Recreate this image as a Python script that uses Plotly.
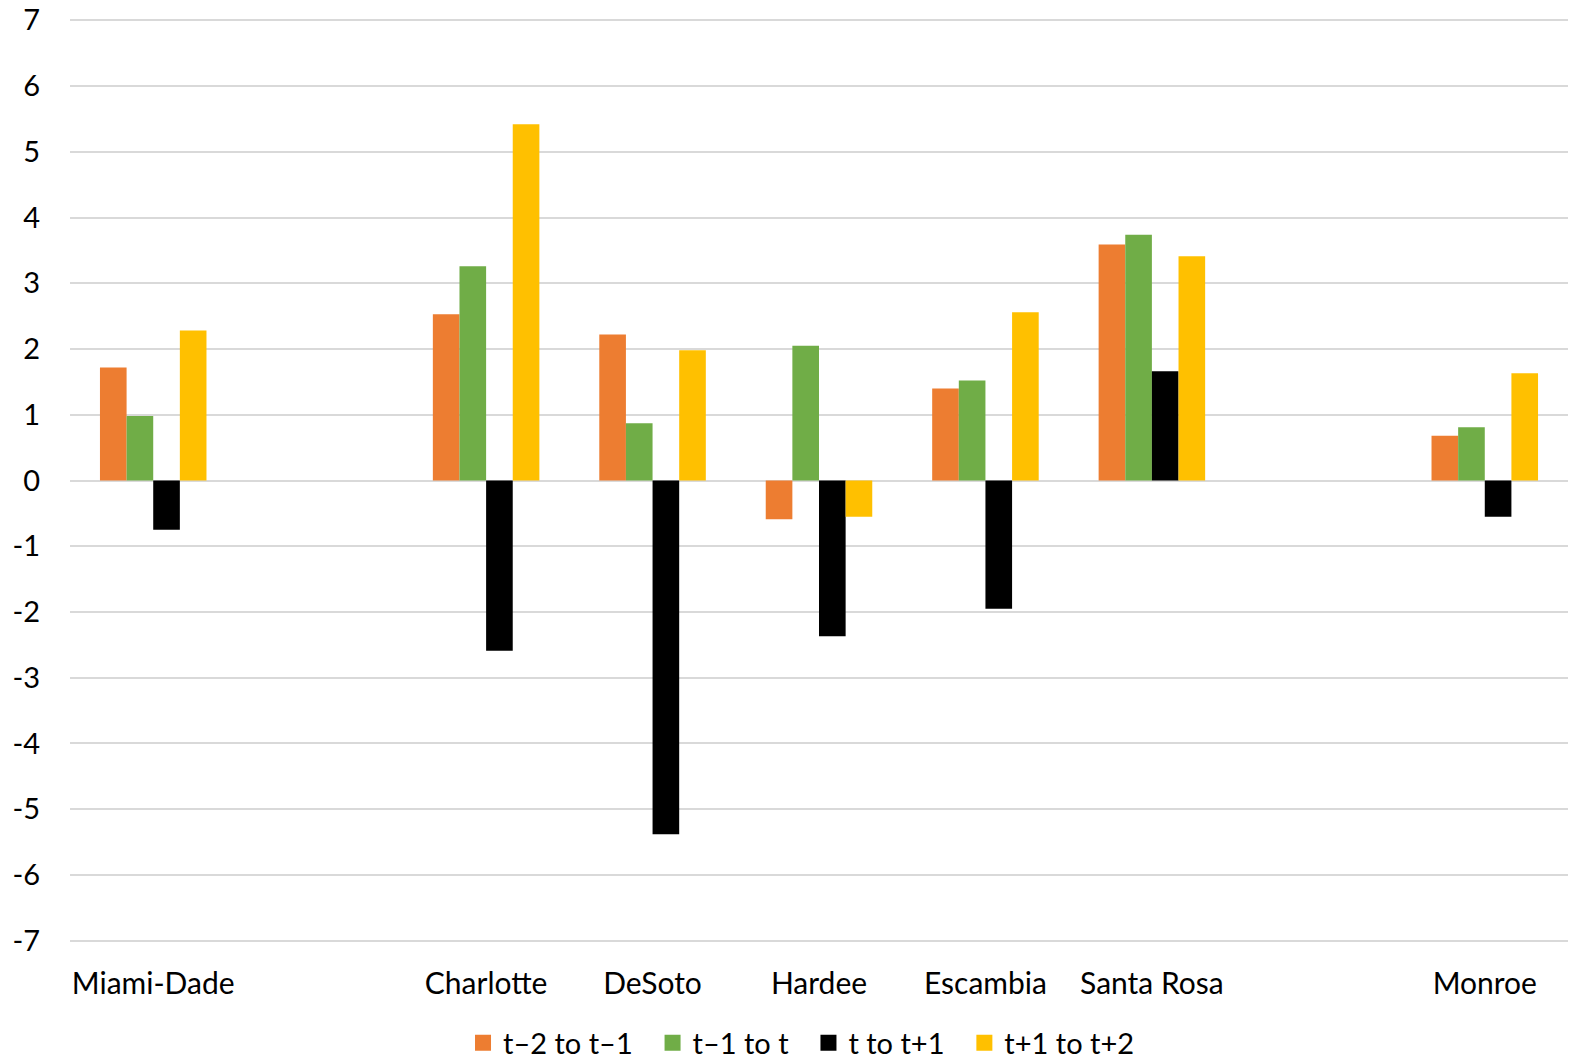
import plotly.graph_objects as go

counties = ["Miami-Dade", " ", "Charlotte", "DeSoto", "Hardee", "Escambia", "Santa Rosa", "  ", "Monroe"]

t_minus2_to_minus1 = [1.72, None, 2.53, 2.22, -0.59, 1.40, 3.59, None, 0.68]
t_minus1_to_t = [0.98, None, 3.26, 0.87, 2.05, 1.52, 3.74, None, 0.81]
t_to_plus1 = [-0.75, None, -2.59, -5.38, -2.37, -1.95, 1.66, None, -0.55]
t_plus1_to_plus2 = [2.28, None, 5.42, 1.98, -0.55, 2.56, 3.41, None, 1.63]

y_ticks = list(range(-7, 8))
y_tick_text = [str(v) for v in y_ticks]

series = [
    ("t\u20132 to t\u20131", t_minus2_to_minus1, "#ED7D31"),
    ("t\u20131 to t", t_minus1_to_t, "#70AD47"),
    ("t to t+1", t_to_plus1, "#000000"),
    ("t+1 to t+2", t_plus1_to_plus2, "#FFC000"),
]

fig = go.Figure()
for name, vals, color in series:
    fig.add_trace(go.Bar(x=counties, y=vals, name=name, marker_color=color,
                         marker_line_width=0, showlegend=False))
# bigger square legend keys, like the spreadsheet legend
for name, vals, color in series:
    fig.add_trace(go.Scatter(x=[None], y=[None], mode="markers",
                             name=name + "\u00a0\u00a0",
                             marker=dict(symbol="square", size=18, color=color)))

fig.update_layout(
    template="simple_white",
    width=1573, height=1061,
    margin=dict(l=70, r=5, t=19, b=119),
    barmode="group", bargap=0.36, bargroupgap=0,
    font=dict(family="Lato, Open Sans, sans-serif", size=29, color="#000000"),
    plot_bgcolor="white",
    paper_bgcolor="white",
    legend=dict(orientation="h", x=0.493, xanchor="center",
                yref="container", y=0.017, yanchor="middle",
                font=dict(size=29), itemwidth=30, traceorder="normal"),
    xaxis=dict(showline=False, ticks="", showgrid=False, automargin=False,
               ticklabelstandoff=21, tickfont=dict(size=30)),
    yaxis=dict(range=[-7.02, 7.02], tickvals=y_ticks, ticktext=y_tick_text,
               showline=False, ticks="", automargin=False,
               showgrid=True, gridcolor="#D9D9D9", gridwidth=2,
               zeroline=True, zerolinecolor="#D9D9D9", zerolinewidth=2,
               ticklabelstandoff=29, tickfont=dict(size=29)),
)

fig.write_html("out.html", config={"displayModeBar": False},
               post_script="document.body.style.margin='0px';")
